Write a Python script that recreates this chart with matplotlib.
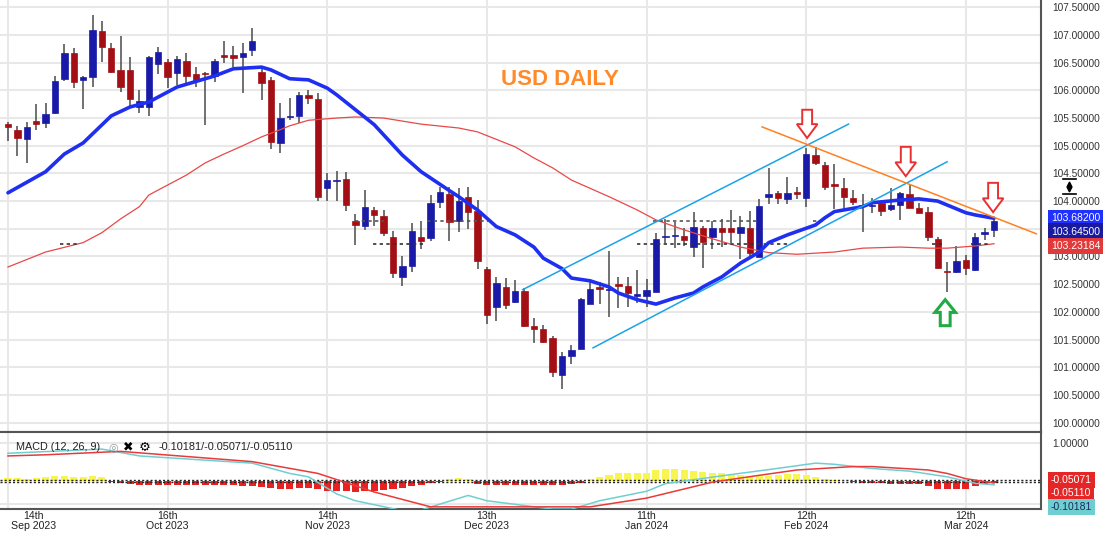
import numpy as np
import matplotlib.pyplot as plt
from matplotlib.patches import FancyArrow

plt.rcParams['font.family'] = ['Liberation Sans', 'DejaVu Sans']

# daily candles (bar index 0 .. 105)
opens = [105.39, 105.29, 105.12, 105.45, 105.41, 105.59, 106.21, 106.68, 106.19, 106.24,
         107.07, 106.77, 106.37, 106.37, 105.70, 105.70, 106.48, 106.51, 106.31, 106.53,
         106.30, 106.31, 106.26, 106.64, 106.64, 106.60, 106.73, 106.33, 106.19, 105.05,
         105.52, 105.54, 105.92, 105.85, 104.24, 104.36, 104.40, 103.64, 103.55, 103.84,
         103.73, 103.35, 102.63, 102.83, 103.35, 103.34, 103.99, 104.13, 103.64, 104.08,
         103.82, 102.78, 102.09, 102.45, 102.18, 102.38, 101.75, 101.69, 101.53, 100.86,
         101.21, 101.33, 102.14, 102.45, 102.40, 102.51, 102.47, 102.29, 102.29, 102.36,
         103.35, 103.37, 103.37, 103.17, 103.52, 103.35, 103.52, 103.52, 103.43, 103.52,
         102.99, 104.08, 104.15, 104.04, 104.17, 104.06, 104.83, 104.65, 104.31, 104.24,
         104.06, 103.91, 103.91, 103.97, 103.86, 103.93, 104.13, 103.88, 103.80, 103.32,
         102.74, 102.72, 102.94, 102.76, 103.41, 103.48]
closes = [105.34, 105.14, 105.34, 105.39, 105.57, 106.17, 106.68, 106.15, 106.24, 107.09,
          106.78, 106.33, 106.06, 105.85, 105.81, 106.60, 106.69, 106.24, 106.57, 106.26,
          106.17, 106.30, 106.53, 106.60, 106.58, 106.68, 106.89, 106.13, 105.07, 105.50,
          105.54, 105.92, 105.86, 104.08, 104.38, 104.37, 103.93, 103.57, 103.90, 103.75,
          103.43, 102.70, 102.83, 103.46, 103.28, 103.97, 104.17, 103.62, 104.00, 103.80,
          102.92, 101.95, 102.52, 102.13, 102.38, 101.75, 101.69, 101.46, 100.92, 101.21,
          101.31, 102.23, 102.42, 102.42, 102.42, 102.47, 102.34, 102.33, 102.40, 103.32,
          103.37, 103.39, 103.30, 103.53, 103.26, 103.52, 103.44, 103.44, 103.53, 103.07,
          103.91, 104.13, 104.06, 104.15, 104.13, 104.85, 104.69, 104.26, 104.27, 104.08,
          103.99, 103.93, 103.93, 103.82, 103.93, 104.15, 103.88, 103.79, 103.35, 102.80,
          102.72, 102.92, 102.80, 103.35, 103.44, 103.64]
highs = [105.43, 105.36, 105.43, 105.76, 105.77, 106.26, 106.84, 106.77, 106.26, 107.36,
         107.25, 106.86, 106.98, 106.60, 106.01, 106.62, 106.78, 106.57, 106.62, 106.68,
         106.42, 106.33, 106.57, 106.89, 106.80, 106.86, 107.13, 106.44, 106.24, 105.77,
         105.86, 105.97, 106.01, 105.95, 104.51, 104.55, 104.53, 103.77, 104.20, 103.90,
         103.84, 103.46, 103.01, 103.61, 103.64, 104.11, 104.26, 104.26, 104.24, 104.26,
         104.02, 102.81, 102.63, 102.61, 102.58, 102.43, 101.89, 101.77, 101.57, 101.28,
         101.40, 102.25, 102.54, 102.54, 103.10, 102.63, 102.63, 102.76, 102.60, 103.43,
         103.68, 103.62, 103.52, 103.80, 103.55, 103.64, 103.68, 103.84, 103.73, 103.82,
         104.04, 104.60, 104.18, 104.44, 104.26, 104.96, 104.98, 104.71, 104.67, 104.42,
         104.20, 104.13, 104.06, 103.99, 104.24, 104.17, 104.29, 103.97, 103.90, 103.35,
         102.90, 103.19, 103.03, 103.43, 103.52, 103.70]
lows = [105.09, 104.82, 104.69, 105.29, 105.32, 105.57, 106.17, 106.04, 105.66, 106.06,
        106.51, 106.31, 105.97, 105.72, 105.59, 105.54, 106.30, 106.04, 106.10, 106.10,
        106.06, 105.38, 106.15, 106.50, 106.42, 105.95, 106.62, 105.83, 104.94, 104.87,
        105.47, 105.41, 105.76, 104.00, 104.00, 104.00, 103.82, 103.21, 103.48, 103.55,
        103.37, 102.61, 102.47, 102.72, 103.14, 103.28, 103.88, 103.28, 103.44, 103.50,
        102.78, 101.78, 101.84, 102.05, 102.16, 101.73, 101.44, 101.44, 100.83, 100.61,
        101.06, 101.33, 102.14, 102.14, 101.91, 102.07, 102.09, 102.16, 102.09, 102.36,
        103.25, 103.15, 103.19, 102.99, 102.80, 103.14, 103.17, 103.25, 102.96, 102.97,
        102.99, 103.95, 103.95, 103.95, 104.04, 103.90, 104.65, 104.20, 103.86, 103.86,
        103.93, 103.44, 103.79, 103.73, 103.82, 103.66, 103.88, 103.79, 103.28, 102.78,
        102.36, 102.70, 102.67, 102.74, 103.30, 103.35]

# moving averages, sampled from the chart
fast_bars = [0, 4, 6, 8, 11, 13, 15, 18, 22, 24, 27, 28, 30, 32, 34, 35, 39, 42, 44, 47,
             48, 50, 52, 54, 56, 57, 59, 60, 62, 64, 65, 67, 69, 71, 73, 74, 76, 78, 80, 81,
             83, 86, 87, 88, 91, 92, 95, 97, 99, 100, 102, 103, 105]
fast_vals = [104.15, 104.53, 104.85, 105.05, 105.54, 105.70, 105.79, 106.06, 106.26, 106.39,
             106.42, 106.37, 106.21, 106.19, 106.04, 105.92, 105.38, 104.83, 104.53, 104.19,
             104.08, 103.84, 103.54, 103.39, 103.17, 102.97, 102.78, 102.61, 102.56, 102.45,
             102.34, 102.22, 102.14, 102.25, 102.34, 102.45, 102.63, 102.88, 103.08, 103.25,
             103.39, 103.57, 103.70, 103.81, 103.90, 103.97, 104.02, 104.04, 104.00, 103.93,
             103.79, 103.75, 103.69]
slow_bars = [0, 4, 8, 10, 12, 14, 15, 17, 19, 21, 23, 25, 27, 29, 30, 32, 35, 37, 40, 44,
             48, 50, 54, 56, 58, 60, 64, 67, 69, 72, 75, 78, 81, 84, 88, 91, 95, 98, 100, 103, 105]
slow_vals = [102.81, 103.08, 103.25, 103.43, 103.68, 103.90, 104.11, 104.29, 104.47, 104.69,
             104.85, 105.00, 105.16, 105.29, 105.36, 105.46, 105.50, 105.52, 105.50, 105.39,
             105.32, 105.25, 104.98, 104.78, 104.60, 104.38, 104.08, 103.84, 103.66, 103.48,
             103.32, 103.17, 103.07, 103.04, 103.08, 103.15, 103.17, 103.15, 103.15, 103.19, 103.23]

# drawn trend lines (bar, price)
chan_up = ([54.8, 89.5], [102.40, 105.39])
chan_lo = ([62.3, 100.0], [101.35, 104.71])
resist = ([80.3, 109.5], [105.34, 103.41])

# marked price levels (dotted segments)
lvl_hi, lvl_lo = 103.645, 103.232
lvl_hi_segs = [(37, 40), (44.6, 51.1), (68.7, 80), (85.7, 87)]
lvl_lo_segs = [(5.5, 7.7), (38.9, 44.2), (67, 83), (98.4, 99.8), (102.5, 104.6)]

# arrows: bar, tail price, tip price
down_arrows = [(85.1, 105.65, 105.14), (95.6, 104.98, 104.45), (104.9, 104.33, 103.80)]
up_arrows = [(99.8, 101.75, 102.22)]

# MACD (12, 26, 9)
macd_bars = [0, 10, 14, 26, 30, 32, 35, 37, 42, 44, 49, 51, 58, 60, 63, 68, 70, 77, 81, 86,
             88, 92, 96, 100, 103, 105]
macd_vals = [0.73, 0.84, 0.66, 0.47, 0.20, 0.11, -0.34, -0.52, -0.78, -0.76, -0.38, -0.52,
             -0.74, -0.74, -0.52, -0.27, -0.07, 0.17, 0.30, 0.47, 0.44, 0.33, 0.26, 0.11, -0.06, -0.10]
sig_bars = [0, 4, 12, 26, 33, 39, 45, 50, 58, 62, 68, 75, 80, 84, 90, 92, 98, 100, 102, 105]
sig_vals = [0.66, 0.69, 0.78, 0.51, 0.20, -0.29, -0.68, -0.68, -0.68, -0.68, -0.45, -0.03,
            0.15, 0.29, 0.38, 0.38, 0.29, 0.20, 0.06, -0.05]
hist = [0.08, 0.08, 0.06, 0.08, 0.10, 0.12, 0.12, 0.10, 0.10, 0.12, 0.10,
        -0.03, -0.06, -0.08, -0.10, -0.10, -0.10, -0.10, -0.10, -0.10, -0.10, -0.10, -0.10,
        -0.10, -0.10, -0.12, -0.12,
        -0.15, -0.18, -0.20, -0.20, -0.18, -0.18, -0.22,
        -0.25, -0.25, -0.27, -0.28, -0.25, -0.25, -0.24,
        -0.22, -0.18, -0.14, -0.10,
        -0.05, -0.02, 0.06, 0.08, 0.05,
        -0.08, -0.10, -0.10, -0.10, -0.10, -0.10, -0.10, -0.10, -0.10,
        -0.10, -0.08, -0.04,
        0.05, 0.10, 0.15, 0.20, 0.22, 0.22, 0.22,
        0.28, 0.32, 0.32, 0.30, 0.27,
        0.25, 0.22, 0.20, 0.18, 0.15, 0.12,
        0.12, 0.12, 0.15, 0.18, 0.18, 0.15, 0.10,
        0.06, 0.03, 0.01,
        -0.02,
        -0.05, -0.06, -0.06, -0.07, -0.07, -0.08, -0.08,
        -0.12,
        -0.20, -0.22, -0.22, -0.20,
        -0.12, -0.08, -0.05]

tick_bars = [0, 17, 34, 51, 68, 85, 102]
tick_labels = ['14th\nSep 2023', '16th\nOct 2023', '14th\nNov 2023', '13th\nDec 2023',
               '11th\nJan 2024', '12th\nFeb 2024', '12th\nMar 2024']

UP, DN = '#1a1aa8', '#a30f14'
GRID = '#e8e8e8'
x = np.arange(len(opens))

fig = plt.figure(figsize=(11.08, 5.39), dpi=100)
W, H = 1108, 539
ax = fig.add_axes([0, 1 - 432 / H, 1041 / W, 432 / H])
ax2 = fig.add_axes([0, 1 - 509 / H, 1041 / W, 77 / H])

# ---- price panel ----
ax.set_xlim(-0.85, 110.0)
ax.set_ylim(99.83, 107.632)
yt = np.arange(100, 107.51, 0.5)
ax.set_yticks(yt)
ax.set_yticklabels([f'{v:.5f}' for v in yt])
ax.yaxis.tick_right()
ax.tick_params(axis='y', length=0, pad=8, labelsize=7.3, labelcolor='#333333')
ax.set_xticks(tick_bars)
ax.tick_params(axis='x', length=0, labelbottom=False)
ax.grid(True, color=GRID, lw=1.5)
ax.set_axisbelow(True)
for s in ['top', 'left']:
    ax.spines[s].set_visible(False)
for s in ['right', 'bottom']:
    ax.spines[s].set_color('#555555')
    ax.spines[s].set_linewidth(1.5)

cols = [UP if c >= o else DN for o, c in zip(opens, closes)]
bottoms = [min(o, c) for o, c in zip(opens, closes)]
heights = [max(abs(c - o), 0.02) for o, c in zip(opens, closes)]
ax.vlines(x, lows, highs, color='#4a4a4a', lw=1.1, zorder=2)
ax.bar(x, heights, bottom=bottoms, width=0.68, color=cols, edgecolor=cols, lw=0.5, zorder=3)

ax.plot(slow_bars, slow_vals, color='#e84848', lw=0.9, zorder=4)
ax.plot(fast_bars, fast_vals, color='#1f2ff0', lw=2.6, zorder=5, solid_capstyle='round')

ax.plot(*chan_up, color='#1aa3e8', lw=1.1, zorder=6)
ax.plot(*chan_lo, color='#1aa3e8', lw=1.1, zorder=6)
ax.plot(*resist, color='#ff8020', lw=1.1, zorder=6)

for a, b in lvl_hi_segs:
    ax.plot([a, b], [lvl_hi, lvl_hi], color='#555555', lw=1.2, ls=(0, (2, 2)), zorder=4)
for a, b in lvl_lo_segs:
    ax.plot([a, b], [lvl_lo, lvl_lo], color='#333333', lw=1.2, ls=(0, (2, 2)), zorder=4)

for bx, tail, tip in down_arrows:
    ax.add_patch(FancyArrow(bx, tail, 0, tip - tail, width=1.05, head_width=2.2,
                            head_length=0.25, length_includes_head=True,
                            fc='white', ec='#e83030', lw=1.4, zorder=7))
for bx, tail, tip in up_arrows:
    ax.add_patch(FancyArrow(bx, tail, 0, tip - tail, width=1.05, head_width=2.2,
                            head_length=0.23, length_includes_head=True,
                            fc='white', ec='#22aa44', lw=2.2, zorder=7))

ax.text(0.538, 0.815, 'USD DAILY', transform=ax.transAxes, ha='center', va='center',
        fontsize=16, fontweight='bold', color='#ff8a2a')

# price tags on the right axis
ytr = ax.get_yaxis_transform()
tags = [(103.70, '103.68200', '#2030ff'), (103.45, '103.64500', '#1a1aa0'),
        (103.19, '103.23184', '#e23a3a')]
for pos, txt, fc in tags:
    ax.text(1.0095, pos, txt, transform=ytr, ha='left', va='center', fontsize=7.5,
            color='white', clip_on=False, zorder=10,
            bbox=dict(boxstyle='square,pad=0.3', fc=fc, ec='none'))

# small scale icon
ax.plot([1.0211, 1.0336], [104.40, 104.40], transform=ytr, color='black', lw=1.2, clip_on=False)
ax.plot([1.0211, 1.0336], [104.13, 104.13], transform=ytr, color='black', lw=1.2, clip_on=False)
ax.plot([1.0273], [104.31], transform=ytr, marker='^', ms=3.5, color='black', clip_on=False)
ax.plot([1.0273], [104.22], transform=ytr, marker='v', ms=3.5, color='black', clip_on=False)

# ---- MACD panel ----
ax2.set_xlim(-0.85, 110.0)
ax2.set_ylim(-0.737, 1.29)
ax2.set_xticks(tick_bars)
ax2.tick_params(axis='x', length=0, labelbottom=False)
ax2.set_yticks([1.0])
ax2.set_yticklabels(['1.00000'])
ax2.yaxis.tick_right()
ax2.tick_params(axis='y', length=0, pad=8, labelsize=7.3, labelcolor='#333333')
ax2.grid(True, color=GRID, lw=1.5)
ax2.axhline(-0.6, color=GRID, lw=1.5, zorder=0)
ax2.set_axisbelow(True)
ax2.spines['left'].set_visible(False)
for s in ['top', 'right', 'bottom']:
    ax2.spines[s].set_color('#555555')
    ax2.spines[s].set_linewidth(1.5)

hcols = ['#f7f54e' if h >= 0 else '#e82222' for h in hist]
ax2.bar(x, hist, width=0.75, color=hcols, zorder=2)
ax2.axhline(0.03, color='#222222', lw=1.0, ls=(0, (1.5, 1.5)), zorder=3)
ax2.axhline(-0.03, color='#222222', lw=1.0, ls=(0, (1.5, 1.5)), zorder=3)
ax2.plot(macd_bars, macd_vals, color='#6fcfd0', lw=1.1, zorder=4)
ax2.plot(sig_bars, sig_vals, color='#e83a3a', lw=1.1, zorder=4)

ax2.text(0.0154, 0.81, 'MACD (12, 26, 9)', transform=ax2.transAxes, va='center',
         fontsize=7.8, color='#222222', zorder=6)
ax2.text(0.1085, 0.80, '\u25ce', transform=ax2.transAxes, va='center', ha='center',
         fontsize=8, color='#999999', family=['DejaVu Sans'], zorder=6)
ax2.text(0.123, 0.80, '\u2716', transform=ax2.transAxes, va='center', ha='center',
         fontsize=9, color='black', family=['DejaVu Sans'], zorder=6)
ax2.text(0.139, 0.80, '\u2699', transform=ax2.transAxes, va='center', ha='center',
         fontsize=9.5, color='black', family=['DejaVu Sans'], zorder=6)
ax2.text(0.152, 0.81, '-0.10181/-0.05071/-0.05110', transform=ax2.transAxes, va='center',
         fontsize=7.8, color='#222222', zorder=6)

ytr2 = ax2.get_yaxis_transform()
mtags = [(0.03, '-0.05071', '#e42626', 'white'), (-0.32, '-0.05110', '#e42626', 'white'),
         (-0.68, '-0.10181', '#6fcfd0', '#1a2a60')]
for pos, txt, fc, tc in mtags:
    ax2.text(1.0095, pos, txt, transform=ytr2, ha='left', va='center', fontsize=7.5,
             color=tc, clip_on=False, zorder=10,
             bbox=dict(boxstyle='square,pad=0.3', fc=fc, ec='none'))

xtr = ax2.get_xaxis_transform()
for i, (b, lab) in enumerate(zip(tick_bars, tick_labels)):
    if i == 0:
        ax2.text(b + 0.3, -0.03, lab, transform=xtr, ha='left', va='top', fontsize=7.6,
                 multialignment='center', linespacing=0.95, color='#222222', clip_on=False)
    else:
        ax2.text(b, -0.03, lab, transform=xtr, ha='center', va='top', fontsize=7.6,
                 multialignment='center', linespacing=0.95, color='#222222', clip_on=False)

fig.savefig('out.png', dpi=100)
